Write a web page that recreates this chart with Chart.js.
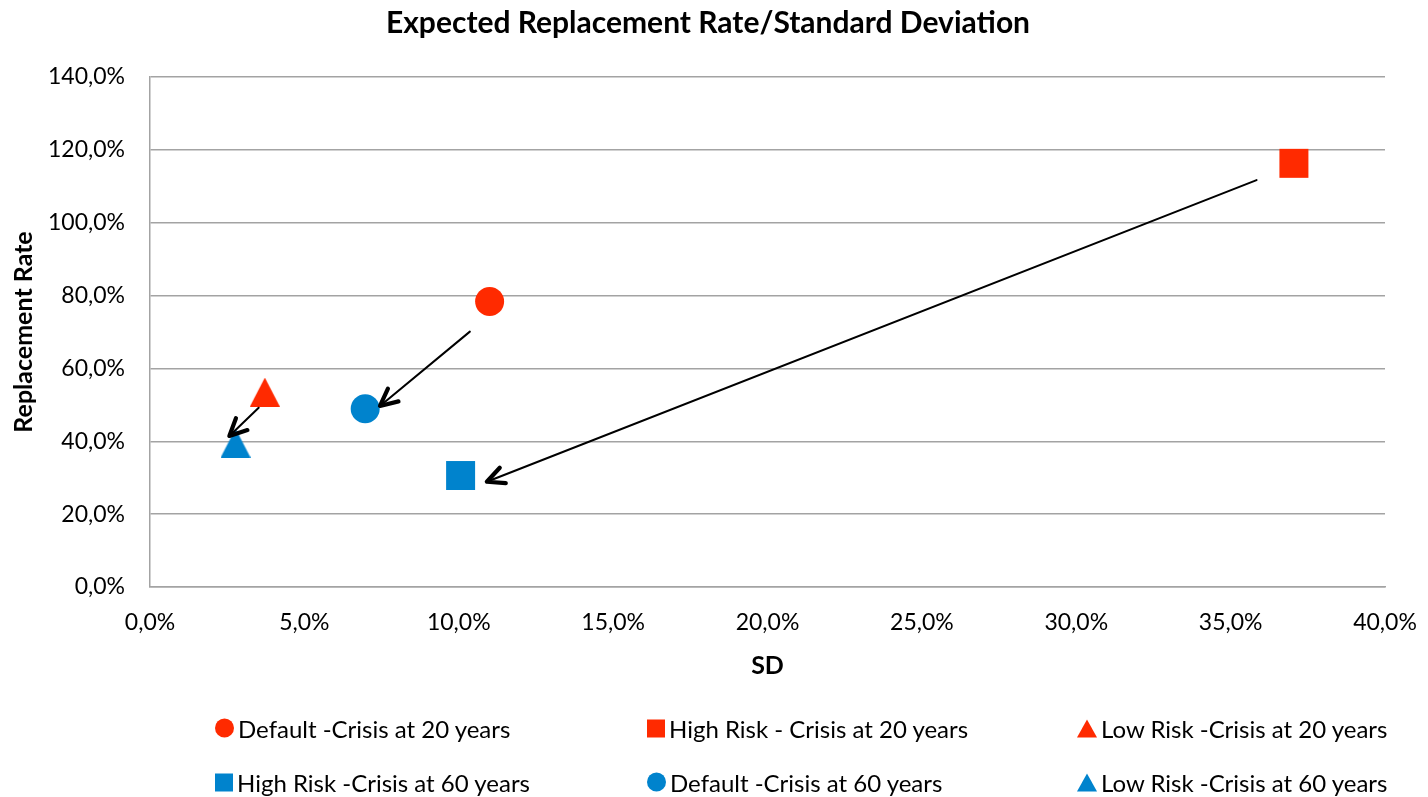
<!DOCTYPE html>
<html>
<head>
<meta charset="utf-8">
<script src="https://cdn.jsdelivr.net/npm/chart.js@4/dist/chart.umd.min.js"></script>
<style>
  html, body { margin: 0; padding: 0; background: #fff; }
  #wrap { position: relative; width: 1428px; height: 797px; }
  #chart { position: absolute; left: 0; top: 0; }
  .lg { position: absolute; display: flex; align-items: center; font-family: Lato, sans-serif; font-size: 24px; color: #000; white-space: nowrap; transform: translateY(-50%); }
  .mk { display: inline-block; margin-right: 4px; }
</style>
</head>
<body>
<div id="wrap">
  <canvas id="chart" width="1428" height="797"></canvas>
</div>
<script>
// Series: standard deviation (%) and expected replacement rate (%)
const seriesNames = [
  'Default -Crisis at 20 years',
  'High Risk - Crisis at 20 years',
  'Low Risk -Crisis at 20 years',
  'High Risk -Crisis at 60 years',
  'Default -Crisis at 60 years',
  'Low Risk -Crisis at 60 years'
];
const sdValues   = [11.0, 37.05, 3.72, 10.06, 6.97, 2.77];
const rateValues = [78.4, 116.3, 53.5, 30.6, 48.9, 39.5];
const seriesShapes = ['circle', 'rect', 'triangle', 'rect', 'circle', 'triangle'];
const seriesColors = ['#ff2a00', '#ff2a00', '#ff2a00', '#0083cd', '#0083cd', '#0083cd'];

// Arrows linking each 20-year scenario to its 60-year counterpart
const arrowFromSD   = [10.36, 35.84, 3.52];
const arrowFromRate = [70.1, 111.7, 49.2];
const arrowToSD     = [7.45, 10.91, 2.57];
const arrowToRate   = [49.7, 28.9, 41.45];

// Axis ticks
const xTicks = [0, 5, 10, 15, 20, 25, 30, 35, 40];
const yTicks = [0, 20, 40, 60, 80, 100, 120, 140];

const fmtPct = v => v.toFixed(1).replace('.', ',') + '%';

function triangleImage(color, w, h) {
  const c = document.createElement('canvas');
  c.width = w; c.height = h;
  const g = c.getContext('2d');
  g.fillStyle = color;
  g.beginPath();
  g.moveTo(w / 2, 0);
  g.lineTo(w, h);
  g.lineTo(0, h);
  g.closePath();
  g.fill();
  return c;
}

function pointStyleFor(shape, color) {
  if (shape === 'triangle') return triangleImage(color, 30, 29);
  return shape;
}
function radiusFor(shape) {
  if (shape === 'rect') return 20.5;
  return 14.5;
}

const datasets = seriesNames.map((name, i) => ({
  label: name,
  data: [{ x: sdValues[i], y: rateValues[i] }],
  pointStyle: pointStyleFor(seriesShapes[i], seriesColors[i]),
  pointRadius: radiusFor(seriesShapes[i]),
  pointHoverRadius: radiusFor(seriesShapes[i]),
  backgroundColor: seriesColors[i],
  borderColor: seriesColors[i],
  borderWidth: 0
}));

const arrowPlugin = {
  id: 'arrows',
  afterDatasetsDraw(chart) {
    const { ctx, scales: { x, y } } = chart;
    ctx.save();
    ctx.strokeStyle = '#000';
    ctx.lineCap = 'round';
    ctx.lineJoin = 'round';
    for (let i = 0; i < arrowFromSD.length; i++) {
      const x0 = x.getPixelForValue(arrowFromSD[i]);
      const y0 = y.getPixelForValue(arrowFromRate[i]);
      const x1 = x.getPixelForValue(arrowToSD[i]);
      const y1 = y.getPixelForValue(arrowToRate[i]);
      ctx.lineWidth = 2;
      ctx.beginPath();
      ctx.moveTo(x0, y0);
      ctx.lineTo(x1, y1);
      ctx.stroke();
      const ang = Math.atan2(y0 - y1, x0 - x1);
      const len = 19, spread = 0.45;
      ctx.lineWidth = 4.2;
      ctx.beginPath();
      ctx.moveTo(x1 + Math.cos(ang - spread) * len, y1 + Math.sin(ang - spread) * len);
      ctx.lineTo(x1, y1);
      ctx.lineTo(x1 + Math.cos(ang + spread) * len, y1 + Math.sin(ang + spread) * len);
      ctx.stroke();
    }
    ctx.restore();
  }
};

const gridGrey = '#a3a3a3';

new Chart(document.getElementById('chart'), {
  type: 'scatter',
  data: { datasets },
  plugins: [arrowPlugin],
  options: {
    responsive: false,
    animation: false,
    events: [],
    layout: { padding: { top: 5, right: 12, bottom: 110, left: 0 } },
    plugins: {
      legend: { display: false },
      tooltip: { enabled: false },
      title: {
        display: true,
        text: 'Expected Replacement Rate/Standard Deviation',
        color: '#000',
        font: { family: 'Lato', size: 30, weight: 'bold' },
        padding: { top: 0, bottom: 36 }
      }
    },
    scales: {
      x: {
        type: 'linear',
        min: 0, max: 40,
        afterFit: s => { s.height = 100; s.paddingLeft = 0; s.paddingRight = 43; },
        afterBuildTicks: s => { s.ticks = xTicks.map(v => ({ value: v })); },
        grid: { display: false, drawTicks: false },
        border: { display: true, color: gridGrey, width: 1.5 },
        ticks: {
          color: '#000',
          padding: 22,
          maxRotation: 0,
          font: { family: 'Lato', size: 23 },
          callback: v => fmtPct(v)
        },
        title: {
          display: true,
          text: 'SD',
          color: '#000',
          font: { family: 'Lato', size: 25, weight: 'bold' },
          padding: { top: 0, bottom: 6 }
        }
      },
      y: {
        type: 'linear',
        min: 0, max: 140,
        afterFit: s => { s.width = 150; },
        afterBuildTicks: s => { s.ticks = yTicks.map(v => ({ value: v })); },
        grid: { color: gridGrey, lineWidth: 1.5, drawTicks: false },
        border: { display: true, color: gridGrey, width: 1.5 },
        ticks: {
          color: '#000',
          padding: 25,
          font: { family: 'Lato', size: 23 },
          callback: v => fmtPct(v)
        },
        title: {
          display: true,
          text: 'Replacement Rate',
          color: '#000',
          font: { family: 'Lato', size: 25, weight: 'bold' },
          padding: { top: 9, bottom: 0 }
        }
      }
    }
  }
});

// Legend laid out in three columns, two rows, in dataset order
const legendCols = [215, 647, 1077];
const legendRows = [728, 782];
const wrap = document.getElementById('wrap');
seriesNames.forEach((name, i) => {
  const item = document.createElement('div');
  item.className = 'lg';
  item.style.left = legendCols[i % 3] + 'px';
  item.style.top = legendRows[Math.floor(i / 3)] + 'px';
  const mk = document.createElement('span');
  mk.className = 'mk';
  const col = seriesColors[i];
  if (seriesShapes[i] === 'circle') {
    mk.style.cssText = `width:19px;height:19px;border-radius:50%;background:${col};`;
  } else if (seriesShapes[i] === 'rect') {
    mk.style.cssText = `width:18px;height:18px;background:${col};`;
  } else {
    mk.style.cssText = `width:0;height:0;border-left:10px solid transparent;border-right:10px solid transparent;border-bottom:18px solid ${col};`;
  }
  item.appendChild(mk);
  item.appendChild(document.createTextNode(name));
  wrap.appendChild(item);
});
</script>
</body>
</html>
